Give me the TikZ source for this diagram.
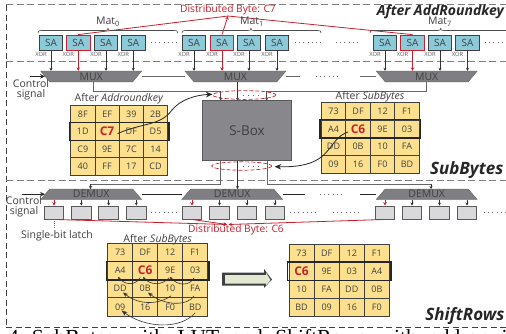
\documentclass[tikz,border=0pt]{standalone}
\usepackage{fontspec}
\setmainfont{Open Sans}
\newfontfamily\capfont{Liberation Serif}
\usetikzlibrary{arrows.meta,calc}
\definecolor{txt}{HTML}{404040}
\definecolor{redd}{HTML}{C8202F}
\definecolor{sablue}{HTML}{8CCAD9}
\definecolor{muxgray}{HTML}{7F7F83}
\definecolor{boxgray}{HTML}{88888C}
\definecolor{latchgray}{HTML}{D9D9DB}
\definecolor{cellyellow}{HTML}{FCE08E}
\definecolor{dashgray}{HTML}{808080}
\definecolor{arrowfill}{HTML}{E2E8D2}
\tikzset{
  sabox/.style={draw=txt,fill=sablue,line width=.8pt,minimum width=23.5pt,minimum height=15pt,inner sep=0pt,text=txt,font=\fontsize{10}{10}\selectfont},
  redsa/.style={sabox,draw=redd},
  latchbox/.style={draw=black!65,fill=latchgray,line width=.9pt,minimum width=19.5pt,minimum height=13pt,inner sep=0pt},
  muxlabel/.style={inner sep=0pt,text=txt,minimum width=101pt,minimum height=10.7pt,font=\fontsize{10.5}{10}\selectfont},
  muxshape/.style={fill=muxgray,draw=black!60,line width=.4pt},
  xorlabel/.style={inner sep=0pt,text=black!65,font=\fontsize{5.8}{6}\selectfont},
  lbl/.style={inner sep=0pt,text=txt,font=\fontsize{10.5}{10}\selectfont},
  biglbl/.style={inner sep=0pt,text=black!85,font=\fontsize{14}{14}\bfseries\itshape\selectfont},
  biglblb/.style={biglbl,font=\fontsize{17}{17}\bfseries\itshape\selectfont},
  redlbl/.style={inner sep=0pt,text=redd,font=\fontsize{10.2}{10}\selectfont},
  cellbox/.style={draw=black!75,fill=cellyellow,line width=.7pt,inner sep=0pt,text=txt,font=\fontsize{9}{9}\selectfont},
  hirow/.style={draw=black!85,line width=1.5pt},
  dashline/.style={dashgray,line width=1pt,dash pattern=on 7pt off 3.5pt},
  outerdash/.style={black!75,line width=.7pt,dash pattern=on 6pt off 3.5pt},
  dataarrow/.style={black!80,line width=.7pt,-{Stealth[length=3pt,width=3pt]}},
  redarrow/.style={redd,line width=.8pt,-{Stealth[length=3.5pt,width=3.5pt]}},
  plainline/.style={black!60,line width=.8pt},
  bigarrow/.style={black!85,line width=.8pt,-{Stealth[length=6.5pt,width=5.5pt]}},
  thinarc/.style={black!80,line width=.6pt},
  dotrow/.style={black!60,line width=.8pt,dash pattern=on 1pt off 3.2pt},
  redell/.style={redd,line width=.7pt,dash pattern=on 4pt off 2pt},
}
\newcommand{\hotcell}[1]{\fontsize{12}{12}\bfseries\color{redd}#1}
% name, x, y, cell width, cell height, entries
\newcommand{\gridtable}[6]{%
  \foreach \t [count=\i from 0] in {#6} {%
    \pgfmathtruncatemacro\rr{int(\i/4)}%
    \pgfmathtruncatemacro\cc{mod(\i,4)}%
    \node[cellbox,minimum width=#4pt,minimum height=#5pt] (#1-\rr-\cc)
      at ({#2+(\cc+.5)*#4},{#3+(\rr+.5)*#5}) {\t};
  }%
  \draw[hirow] ($(#1-1-0.north west)+(-1,0)$) rectangle ($(#1-1-3.south east)+(1,0)$);
}
\newcommand{\matbrace}[4]{% x0, peak, x1, y
  \draw[black!70,line width=.6pt] (#1,#4+2.5) .. controls (#1,#4+.5) and (#1+1,#4) .. (#1+3,#4)
    -- (#2-3,#4) .. controls (#2-1,#4) and (#2,#4-.5) .. (#2,#4-2.2)
    .. controls (#2,#4-.5) and (#2+1,#4) .. (#2+3,#4) -- (#3-3,#4)
    .. controls (#3-1,#4) and (#3,#4+.5) .. (#3,#4+2.5);
}
\begin{document}
\begin{tikzpicture}[x=1pt,y=-1pt]
\useasboundingbox (0,0) rectangle (506,333);
\clip (0,0) rectangle (506,333);
\fill[white] (0,0) rectangle (506,333);

% dashed frames
\draw[outerdash] (6,5) -- (6,327);
\draw[dashline] (6,4.5) -- (506,4.5);
\draw[dashline] (6,61.5) -- (506,61.5);
\draw[dashline] (6,180) -- (506,180);
\draw[outerdash] (6,327) -- (506,327);

% titles
\node[biglbl,anchor=east] (tA) at (504,12) {After AddRoundkey};
\node[biglblb,anchor=east] (tS) at (503.5,170) {SubBytes};
\node[biglblb,anchor=east] (tR) at (504.5,316) {ShiftRows};

% S-box
\node[draw=black!65,fill=boxgray,line width=.8pt,minimum width=88.5pt,minimum height=60pt,inner sep=0pt,text=txt,font=\fontsize{13.5}{14}\selectfont] (sbox) at (247,130.7) {S-Box};

% MUX row
\foreach \n/\x in {mux0/91.2,mux1/235.4,mux7/426.7}{
  \draw[muxshape] (\x-50.5,71) -- (\x+50.5,71) -- (\x+41.5,81.8) -- (\x-41.5,81.8) -- cycle;
  \node[muxlabel] (\n) at (\x,76.4) {MUX};
}
% DEMUX row
\foreach \n/\x in {dem0/91.2,dem1/232.2,dem7/426.7}{
  \draw[muxshape] (\x-41.5,189) -- (\x+41.5,189) -- (\x+50.5,199.5) -- (\x-50.5,199.5) -- cycle;
  \node[muxlabel] (\n) at (\x,194.2) {DEMUX};
}

% SA arrays and XOR labels
\foreach \n/\x/\s in {a0/51/sabox,a1/78.2/redsa,a2/106/sabox,a3/133.2/sabox,
                      b0/194/sabox,b1/222/redsa,b2/249/sabox,b3/277/sabox,
                      c0/385/sabox,c1/412.5/redsa,c2/440/sabox,c3/467.5/sabox}{
  \node[\s] (\n) at (\x,42.5) {SA};
  \node[xorlabel] (x\n) at (\x-10,54) {XOR};
}
% SA to MUX
\foreach \n/\m in {a0/mux0,a2/mux0,a3/mux0,b0/mux1,b2/mux1,b3/mux1,c0/mux7,c2/mux7,c3/mux7}
  \draw[dataarrow] (\n.south) -- (\n.south |- \m.north);
\foreach \n/\m in {a1/mux0,b1/mux1,c1/mux7}
  \draw[redarrow] (\n.south) -- (\n.south |- \m.north);

% latches
\foreach \n/\x in {la0/54,la1/81.3,la2/108.6,la3/136.3,
                   lb0/192,lb1/219.5,lb2/247,lb3/275,
                   lc0/385,lc1/412,lc2/439.5,lc3/467}
  \node[latchbox] (\n) at (\x,212.5) {};
\foreach \n/\m in {la1/dem0,la2/dem0,la3/dem0,lb1/dem1,lb2/dem1,lb3/dem1,lc1/dem7,lc2/dem7,lc3/dem7}
  \draw[dataarrow] (\n.north |- \m.south) -- (\n.north);
\foreach \n/\m in {la0/dem0,lb0/dem1,lc0/dem7}
  \draw[redarrow] (\n.north |- \m.south) -- (\n.north);

% horizontal links and dots
\draw[plainline] (mux0.east) -- (mux1.west);
\coordinate (m1r) at (300,76.4); \coordinate (m7l) at (360,76.4);
\draw[plainline] (mux1.east) -- (m1r);
\draw[plainline] (m7l) -- (mux7.west);
\draw[dotrow] (316,76.4) -- (341,76.4);
\draw[black!85,line width=.7pt] (dem0.east) -- (dem1.west);
\coordinate (d1r) at (305,194.2); \coordinate (d7l) at (360,194.2);
\draw[black!85,line width=.7pt] (dem1.east) -- (d1r);
\draw[black!85,line width=.7pt] (d7l) -- (dem7.west);
\draw[dotrow] (320,194.2) -- (342,194.2);
\foreach \a/\b in {151/178,295/322,336/361,485/506}
  \draw[dotrow] (\a,42.5) -- (\b,42.5);
\foreach \a/\b in {151/178,290/317,333/359,484/506}
  \draw[dotrow] (\a,212.5) -- (\b,212.5);

% control signals
\coordinate (ctlA) at (30,76.4);
\coordinate (ctlB) at (22,194.2);
\draw[bigarrow,-{Stealth[length=5pt,width=4.5pt]}] (ctlA) -- (45,76.4);
\draw[bigarrow,-{Stealth[length=5pt,width=4.5pt]}] (ctlB) -- (45,194.2);
\node[lbl] (cA) at (31,84) {Control};
\node[lbl] (cB) at (31,95) {signal};
\node[lbl] (cC) at (24,201) {Control};
\node[lbl] (cD) at (24,212) {signal};

% to S-box
\coordinate (sTa) at (220.7,100.7); \coordinate (sTb) at (266.7,100.7);
\draw[plainline] (93.3,81.8) |- (220.7,91.2);
\draw[dataarrow,black!70] (220.7,91.2) -- (sTa);
\draw[dataarrow] (237.5,81.8) -- (237.5,100.7);
\draw[plainline] (426.7,81.8) |- (266.7,91.2);
\draw[dataarrow,black!70] (266.7,91.2) -- (sTb);
% from S-box
\draw[plainline] (220.7,160.7) |- (90.5,184.3);
\draw[dataarrow] (90.5,184.3) -- (90.5,189);
\draw[dataarrow] (237.5,160.7) -- (237.5,189);
\draw[plainline] (267,160.7) |- (431,184.3);
\draw[dataarrow] (431,184.3) -- (431,189);

% red ellipses
\draw[redell] (244.3,95) ellipse [x radius=31.5,y radius=4.4];
\draw[redell] (241.7,166) ellipse [x radius=30,y radius=4.2];
\draw[dotrow,dash pattern=on 1pt off 4pt] (243,95) -- (259,95);
\draw[dotrow,dash pattern=on 1pt off 4pt] (243,166) -- (259,166);

% distributed byte, top
\node[redlbl] (dT) at (228,9.5) {Distributed Byte: C7};
\coordinate (dTp) at (228,16);
\draw[redd,line width=.8pt] (a1.north) -- (dTp);
\draw[redarrow] (b1.north) -- (dTp);
\draw[redd,line width=.8pt] (c1.north) -- (dTp);

% distributed byte, bottom
\node[redlbl] (dB) at (236,230) {Distributed Byte: C6};
\coordinate (dBa) at (227,224.5); \coordinate (dBb) at (228.5,224.5);
\draw[redarrow] (la0.south) -- (dBa);
\draw[redarrow] (lb0.south) -- (dBa);
\draw[redarrow] (lc0.south) -- (dBb);

% single-bit latch
\node[lbl] (sb) at (57,236) {Single-bit latch};
\draw[black!55,line width=.8pt,dash pattern=on 1pt off 1pt] (la0.south) -- (54,229);

% braces
\matbrace{38}{108}{177.7}{30.5}
\matbrace{182}{251}{321}{30.5}
\matbrace{370}{440.7}{530}{30.5}
\node[lbl] (m0) at (108,22) {Mat\textsubscript{0}};
\node[lbl] (m1) at (252,22) {Mat\textsubscript{1}};
\node[lbl] (m7) at (440,22) {Mat\textsubscript{7}};

% tables
\gridtable{L}{70.7}{105.3}{24.25}{17.5}{8F,EF,39,2B,1D,\hotcell{C7},DF,D5,C9,9E,7C,14,40,FF,17,CD}
\gridtable{R}{321.3}{102.3}{24.5}{17.75}{73,DF,12,F1,A4,\hotcell{C6},9E,03,DD,0B,10,FA,09,16,F0,BD}
\gridtable{P}{107.7}{243.5}{25}{18.1}{73,DF,12,F1,A4,\hotcell{C6},9E,03,DD,0B,10,FA,09,16,F0,BD}
\gridtable{Q}{289}{244}{25.1}{18.1}{73,DF,12,F1,\hotcell{C6},9E,03,A4,10,FA,DD,0B,BD,09,16,F0}
\node[lbl] (tL) at (119,99) {After \textit{Addroundkey}};
\node[lbl] (tRr) at (370,96.7) {After \textit{SubBytes}};
\node[lbl] (tP) at (157.7,240) {After \textit{SubBytes}};

% curved arrows S-box
\draw[bigarrow] (L-1-1.east) ++(-2,2) .. controls (145,122) and (160,126) .. (172,110) .. controls (180,100) and (195,95) .. (212.5,94.3);
\draw[bigarrow] (R-1-1.center) ++(-10,3) .. controls (325,140) and (335,168) .. (274.7,166.7);

% shift arcs
\draw[thinarc,-{Stealth[length=3pt,width=3pt]}] (P-1-1.center) ++(-5,7) .. controls (135,286) and (125,285) .. (118,277);
\draw[thinarc,-{Stealth[length=3pt,width=3pt]}] (P-1-2.center) ++(-1,7) .. controls (162,286) and (150,285) .. (143,277);
\draw[thinarc,-{Stealth[length=3pt,width=3pt]}] (P-1-3.center) ++(-1,7) .. controls (190,286) and (178,286) .. (170,277);
\draw[thinarc,-{Stealth[length=5pt,width=4pt]}] (P-2-2.center) ++(1,7) .. controls (160,304) and (140,306) .. (123,292.5);
\draw[thinarc,-{Stealth[length=5pt,width=4pt]}] (P-2-3.center) ++(-1,7) .. controls (188,306) and (165,306) .. (148,292.5);
\draw[thinarc,-{Stealth[length=6pt,width=4.5pt]}] (P-3-3.center) ++(0,6) .. controls (180,330) and (145,328) .. (121.5,310.5);

% block arrow
\coordinate (ba) at (221,274);
\fill[black!75] (222,272.5) -- (264,272.5) -- (264,269) -- (272,279.5) -- (264,288) -- (264,285.5) -- (222,285.5) -- cycle;
\fill[arrowfill] (225,275) -- (266,275) -- (266,272.5) -- (270.5,280) -- (266,285.5) -- (266,283.5) -- (225,283.5) -- cycle;

% caption, cut by the lower edge
\node[anchor=base west,inner sep=0pt,text=black,font=\capfont\fontsize{21.5}{22}\selectfont] (cap) at (8,344.2) {\spaceskip=12.5pt 4:\hspace{7pt}SubBytes with LUT and ShiftRows with add-on i};
\end{tikzpicture}
\end{document}
